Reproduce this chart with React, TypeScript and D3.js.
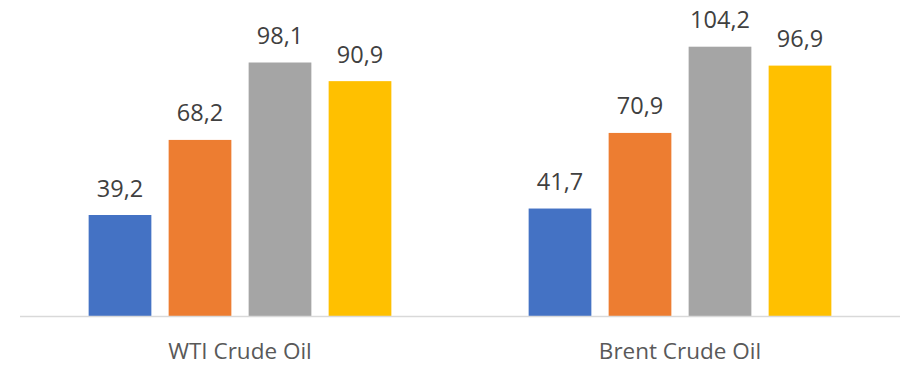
import React from "react";
import * as d3 from "d3";

const categories = ["WTI Crude Oil", "Brent Crude Oil"];
const seriesNames = ["Series 1", "Series 2", "Series 3", "Series 4"];
const seriesColors = ["#4472C4", "#ED7D31", "#A5A5A5", "#FFC000"];
const series1 = [39.2, 41.7];
const series2 = [68.2, 70.9];
const series3 = [98.1, 104.2];
const series4 = [90.9, 96.9];
const allSeries = [series1, series2, series3, series4];

const W = 907;
const H = 368;
const FONT = "'Open Sans', 'Segoe UI', sans-serif";

export default function App() {
  const x0 = d3.scaleBand<string>().domain(categories).range([20, 900]).padding(0);
  const x1 = d3
    .scaleBand<string>()
    .domain(seriesNames)
    .range([60, 380])
    .paddingInner(0.216)
    .paddingOuter(0.108);
  const y = d3.scaleLinear().domain([0, 120]).range([316.5, 5.8]);
  const fmt = (v: number) => v.toFixed(1).replace(".", ",");

  return (
    <svg
      width={W}
      height={H}
      style={{ position: "absolute", left: 0, top: 0, background: "#fff" }}
    >
      {categories.map((c, ci) => (
        <g key={c}>
          {seriesNames.map((s, si) => {
            const v = allSeries[si][ci];
            const bx = (x0(c) ?? 0) + (x1(s) ?? 0);
            const bw = x1.bandwidth();
            return (
              <g key={s}>
                <rect x={bx} y={y(v)} width={bw} height={y(0) - y(v)} fill={seriesColors[si]} />
                <text
                  x={bx + bw / 2}
                  y={y(v) - 18.5}
                  textAnchor="middle"
                  fontFamily={FONT}
                  fontSize={23.5}
                  fill="#404040"
                >
                  {fmt(v)}
                </text>
              </g>
            );
          })}
          <text
            x={(x0(c) ?? 0) + x0.bandwidth() / 2}
            y={359}
            textAnchor="middle"
            fontFamily={FONT}
            fontSize={22.5}
            fill="#595959"
          >
            {c}
          </text>
        </g>
      ))}
      <line x1={20} x2={900} y1={316.5} y2={316.5} stroke="#D9D9D9" strokeWidth={1.5} />
    </svg>
  );
}
